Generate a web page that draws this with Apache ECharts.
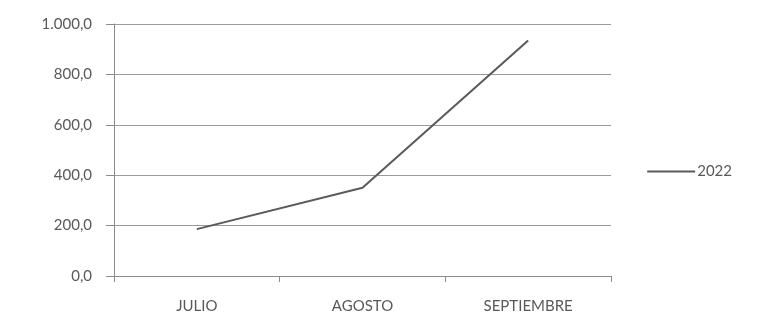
<!DOCTYPE html>
<html>
<head>
<meta charset="utf-8">
<script src="https://cdn.jsdelivr.net/npm/echarts@6/dist/echarts.min.js"></script>
<style>
html,body{margin:0;padding:0;background:#fff;}
#main{width:759px;height:318px;}
</style>
</head>
<body>
<div id="main"></div>
<script>
var meses = ['JULIO', 'AGOSTO', 'SEPTIEMBRE'];
var valores2022 = [186, 350, 935];
var nombreSerie = '2022';

var myChart = echarts.init(document.getElementById('main'));

function formato(v) {
	var s = v.toFixed(1).split('.');
	var ent = s[0].replace(/\B(?=(\d{3})+(?!\d))/g, '.');
	return ent + ',' + s[1];
}

var option = {
	backgroundColor: '#fff',
	textStyle: { fontFamily: 'Lato', color: '#595959' },
	grid: { left: 114, right: 148, top: 24, bottom: 42 },
	legend: {
		data: [nombreSerie],
		right: 22,
		top: 159,
		itemWidth: 48,
		itemHeight: 14,
		itemGap: 2,
		icon: 'path://M0,6 L48,6 L48,8 L0,8 Z',
		textStyle: { fontSize: 15, color: '#595959', fontFamily: 'Lato', padding: [0, 0, 0, -3] }
	},
	xAxis: {
		type: 'category',
		data: meses,
		boundaryGap: true,
		axisLine: { lineStyle: { color: '#8c8c8c', width: 1 } },
		axisTick: { show: true, length: 6, lineStyle: { color: '#8c8c8c' } },
		axisLabel: { fontSize: 15, color: '#595959', margin: 23 }
	},
	yAxis: {
		type: 'value',
		min: 0,
		max: 1000,
		interval: 200,
		axisLine: { show: true, lineStyle: { color: '#8c8c8c' } },
		axisTick: { show: true, length: 8, lineStyle: { color: '#8c8c8c' } },
		axisLabel: { fontSize: 15, color: '#595959', margin: 22, formatter: formato },
		splitLine: { lineStyle: { color: '#9a9a9a', width: 1 } }
	},
	series: [{
		name: nombreSerie,
		type: 'line',
		data: valores2022,
		symbol: 'none',
		lineStyle: { color: '#5a5a5a', width: 2 },
		itemStyle: { color: '#5a5a5a' }
	}]
};
myChart.setOption(option);
</script>
</body>
</html>
